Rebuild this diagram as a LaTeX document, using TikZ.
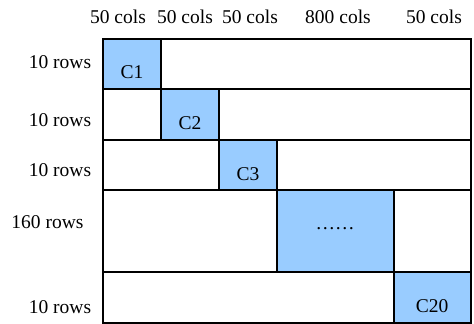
\documentclass[tikz,border=0pt]{standalone}
\usepackage{fontspec}
\setmainfont{Liberation Serif}
\definecolor{blk}{HTML}{99CCFF}
\begin{document}
\begin{tikzpicture}[x=1pt,y=1pt,
  rowbox/.style={draw=black,line width=1.2pt,fill=white,inner sep=0pt,outer sep=0pt},
  blkbox/.style={draw=black,line width=1.2pt,fill=blk,inner sep=0pt,outer sep=0pt},
  lbl/.style={font=\fontsize{19.5}{22}\selectfont,inner sep=0pt}]
\useasboundingbox (0,0) rectangle (474,324);
% rows
\draw[rowbox] (103,235) rectangle (471,285);
\draw[rowbox] (103,184) rectangle (471,235);
\draw[rowbox] (103,134) rectangle (471,184);
\draw[rowbox] (103,52) rectangle (471,134);
\draw[rowbox] (103,1) rectangle (471,52);
% blocks
\node[blkbox,minimum width=58pt,minimum height=50pt] (b1) at (132,260) {};
\node[blkbox,minimum width=58pt,minimum height=51pt] (b2) at (190,209.5) {};
\node[blkbox,minimum width=58pt,minimum height=50pt] (b3) at (248,159) {};
\node[blkbox,minimum width=117pt,minimum height=82pt] (b4) at (335.5,93) {};
\node[blkbox,minimum width=77pt,minimum height=51pt] (b5) at (432.5,26.5) {};
% block labels
\node[lbl] (t1) at (132,252) {C1};
\node[lbl] (t2) at (190,201) {C2};
\node[lbl] (t3) at (248,150) {C3};
\node[lbl] (t4) at (335,95) {……};
\node[lbl] (t5) at (432,18) {C20};
% row labels
\node[lbl] (r1) at (60,262) {10 rows};
\node[lbl] (r2) at (60,204) {10 rows};
\node[lbl] (r3) at (60,154) {10 rows};
\node[lbl] (r4) at (47.5,102) {160 rows};
\node[lbl] (r5) at (60,17) {10 rows};
% column labels
\node[lbl] (c1) at (118,307) {50 cols};
\node[lbl] (c2) at (185,307) {50 cols};
\node[lbl] (c3) at (250,307) {50 cols};
\node[lbl] (c4) at (338,307) {800 cols};
\node[lbl] (c5) at (434,307) {50 cols};
\end{tikzpicture}
\end{document}
